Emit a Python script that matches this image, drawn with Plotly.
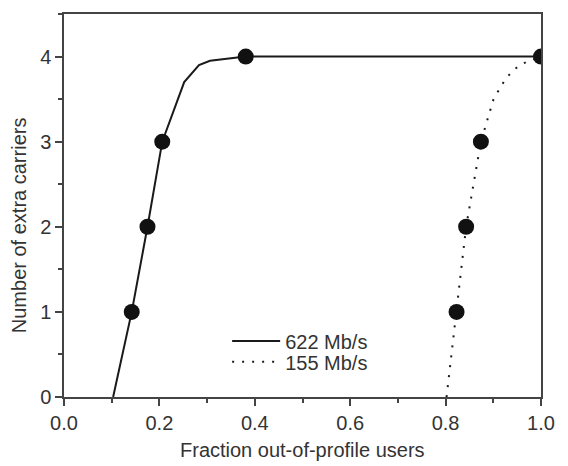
import plotly.graph_objects as go

# 622 Mb/s curve (solid) and measured points
line622_x = [0.103, 0.142, 0.175, 0.206, 0.252, 0.283, 0.306, 0.381, 1.0]
line622_y = [0, 1, 2, 3, 3.7, 3.9, 3.95, 4, 4]
pts622_x = [0.142, 0.175, 0.206, 0.381]
pts622_y = [1, 2, 3, 4]

# 155 Mb/s curve (dotted) and measured points
line155_x = [0.802, 0.823, 0.843, 0.874, 0.900, 0.912, 0.926, 0.944, 0.963, 1.0]
line155_y = [0, 1, 2, 3, 3.49, 3.61, 3.74, 3.85, 3.92, 4]
pts155_x = [0.823, 0.843, 0.874, 1.0]
pts155_y = [1, 2, 3, 4]

x_ticks = [0.0, 0.2, 0.4, 0.6, 0.8, 1.0]
x_ticklabels = ["0.0", "0.2", "0.4", "0.6", "0.8", "1.0"]
y_ticks = [0, 1, 2, 3, 4]
y_ticklabels = ["0", "1", "2", "3", "4"]

FONT = "Liberation Sans, Arial, sans-serif"
TXT = "#333333"
LINE = "#1a1a1a"
AX = "#444444"
FS = 20

fig = go.Figure()
fig.add_trace(go.Scatter(x=line622_x, y=line622_y, mode="lines", name="622 Mb/s",
                         line=dict(color=LINE, width=2), legend="legend"))
fig.add_trace(go.Scatter(x=line155_x, y=line155_y, mode="lines", name="155 Mb/s",
                         line=dict(color=LINE, width=2, dash="2px,8px"), legend="legend2"))
fig.add_trace(go.Scatter(x=pts622_x, y=pts622_y, mode="markers", showlegend=False,
                         marker=dict(symbol="circle", size=16, color="#111111")))
fig.add_trace(go.Scatter(x=pts155_x, y=pts155_y, mode="markers", showlegend=False,
                         marker=dict(symbol="circle", size=16, color="#111111")))

axis_common = dict(showline=True, linecolor=AX, linewidth=1.5, mirror=True,
                   ticks="outside", ticklen=7, tickwidth=1.5, tickcolor=AX,
                   showgrid=False, zeroline=False,
                   tickfont=dict(family=FONT, size=FS, color=TXT))

fig.update_xaxes(range=[0, 1], tickvals=x_ticks, ticktext=x_ticklabels,
                 minor=dict(dtick=0.1, ticklen=4, tickwidth=1.5, tickcolor=AX, ticks="outside"),
                 **axis_common)
fig.update_yaxes(range=[0, 4.5], tickvals=y_ticks, ticktext=y_ticklabels,
                 minor=dict(dtick=0.5, ticklen=4, tickwidth=1.5, tickcolor=AX, ticks="outside"),
                 **axis_common)

fig.add_annotation(text="Fraction out-of-profile users", xref="paper", yref="paper",
                   x=0.5, y=-0.138, xanchor="center", yanchor="middle", showarrow=False,
                   font=dict(family=FONT, size=FS, color=TXT))
fig.add_annotation(text="Number of extra carriers", xref="paper", yref="paper",
                   x=-0.094, y=0.449, xanchor="center", yanchor="middle", showarrow=False,
                   textangle=-90, font=dict(family=FONT, size=FS, color=TXT))

leg_common = dict(xanchor="left", yanchor="top", bgcolor="rgba(0,0,0,0)", borderwidth=0,
                  font=dict(family=FONT, size=FS, color=TXT), itemwidth=48)

fig.update_layout(
    width=560, height=458,
    margin=dict(l=56, r=27, t=4, b=69),
    paper_bgcolor="white", plot_bgcolor="white",
    showlegend=True,
    legend=dict(x=0.342, y=0.197, **leg_common),
    legend2=dict(x=0.342, y=0.143, **leg_common),
)

fig.write_html("out.html")
